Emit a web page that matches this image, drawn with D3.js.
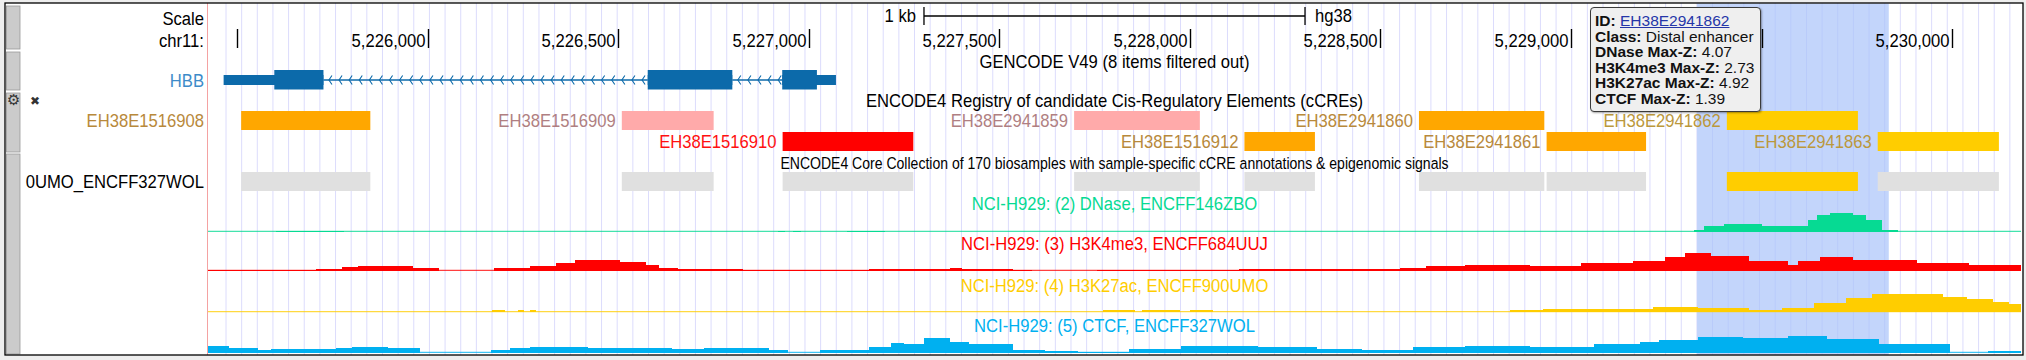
<!DOCTYPE html>
<html><head><meta charset="utf-8">
<script src="https://cdn.jsdelivr.net/npm/d3@7"></script>
<style>
html,body{margin:0;padding:0;background:#eeeeee;overflow:hidden;}
#wrap{position:relative;width:2026px;height:360px;}
svg{display:block;font-family:"Liberation Sans",Arial,Helvetica,sans-serif;}
#tip{position:absolute;left:1590px;top:7px;width:162px;height:95px;padding:5px 3px 3px 4px;
 background:#efefef;border:1px solid #3a3a3a;border-radius:4px;box-shadow:1px 1px 2px rgba(0,0,0,0.35);
 font-family:"Liberation Sans",Arial,sans-serif;font-size:15.5px;line-height:15.5px;color:#111;white-space:nowrap;}
#tip b{font-weight:bold;}
#tip a{color:#2536a8;text-decoration:underline;}
</style></head><body>
<div id="wrap"><svg id="c" width="2026" height="360"></svg>
<div id="tip"></div></div>
<script>
// ---------------- data ----------------
const chromName = "chr11:";
const assembly = "hg38";
const viewStart = 5225423, viewEnd = 5230181;
const tickValues = d3.range(5225500, 5230001, 500);
const scaleBarBp = 1000;
const scaleBarLabel = "1 kb";
const highlightRegion = [5229331, 5229834];

const geneTrackTitle = "GENCODE V49 (8 items filtered out)";
const geneName = "HBB";
const geneExons = [[5225464, 5225726], [5226577, 5226799], [5226930, 5227071]];
const geneCds = [5225597, 5227021];

const ccreTrackTitle = "ENCODE4 Registry of candidate Cis-Regulatory Elements (cCREs)";
const ccreNames  = ["EH38E1516908","EH38E1516909","EH38E1516910","EH38E2941859","EH38E1516912","EH38E2941860","EH38E2941861","EH38E2941862","EH38E2941863"];
const ccreStarts = [5225510, 5226509, 5226931, 5227696, 5228143, 5228601, 5228936, 5229409, 5229805];
const ccreEnds   = [5225849, 5226750, 5227274, 5228026, 5228328, 5228930, 5229197, 5229753, 5230123];
const ccreClasses = ["pELS","CA-H3K4me3","PLS","CA-H3K4me3","pELS","pELS","pELS","dELS","dELS"];
const ccreClassColors = {"PLS":"#ff0000","pELS":"#ffa700","dELS":"#ffcd00","CA-H3K4me3":"#ffaaaa"};
const ccreLabelColors = {"PLS":"#ff1010","pELS":"#b8893b","dELS":"#bb983c","CA-H3K4me3":"#b07f82"};

const coreTrackTitle = "ENCODE4 Core Collection of 170 biosamples with sample-specific cCRE annotations & epigenomic signals";
const coreTrackLabel = "0UMO_ENCFF327WOL";
const coreActive = ["EH38E2941862"];
const coreInactiveColor = "#e0e0e0";

const signalNames = ["NCI-H929: (2) DNase, ENCFF146ZBO","NCI-H929: (3) H3K4me3, ENCFF684UUJ","NCI-H929: (4) H3K27ac, ENCFF900UMO","NCI-H929: (5) CTCF, ENCFF327WOL"];
const signalColors = ["#06da93","#ff0000","#ffcd00","#00b0f0"];
const signalMax = 20;

const dnase = [[5225601,5225780,1.3],[5226919,5226937,1.3],[5226958,5226979,1.3],[5227100,5227200,1.3],
 [5229324,5229349,1.7],[5229349,5229401,5.7],[5229401,5229501,8.3],[5229501,5229621,6.3],[5229621,5229645,11.7],
 [5229645,5229680,16.7],[5229680,5229740,19],[5229740,5229774,16.7],[5229774,5229816,11.7],[5229816,5229858,1.7]];

const h3k4me3 = [[5225423,5225546,1],[5225546,5225706,0.7],[5225706,5225775,2],[5225775,5225817,4.3],[5225817,5225961,5.5],
 [5225961,5226029,3.3],[5226174,5226268,2.7],[5226268,5226336,5],[5226336,5226386,7.7],[5226386,5226504,11],
 [5226504,5226572,9.3],[5226572,5226607,6],[5226607,5226656,2.7],[5226656,5226827,1.7],[5226827,5227158,1],
 [5227158,5227370,2],[5227370,5227402,3.3],[5227402,5227536,2],[5227536,5227585,0.7],[5227756,5228129,1],
 [5228129,5228551,1.7],[5228551,5228619,3.3],[5228619,5228722,5.3],[5228722,5228892,6],[5228892,5229026,5],
 [5229026,5229163,7.7],[5229163,5229247,10],[5229247,5229299,13.7],[5229299,5229367,17.7],[5229367,5229467,15],
 [5229467,5229569,10.3],[5229569,5229596,6],[5229596,5229653,10],[5229653,5229740,13.7],[5229740,5229908,11],
 [5229908,5230044,8.3],[5230044,5230181,6]];

const h3k27ac = [[5226168,5226202,2.3],[5226237,5226252,2],[5226268,5226284,2],[5227772,5227856,2.3],[5227874,5227974,2.3],
 [5228000,5228060,2.3],[5228840,5228926,2.3],[5228926,5229215,3.7],[5229215,5229333,5],[5229333,5229467,4],
 [5229467,5229554,2.3],[5229554,5229638,4],[5229638,5229722,9],[5229722,5229790,14],[5229790,5229976,18.3],
 [5229976,5230040,15.7],[5230040,5230107,13],[5230107,5230150,10],[5230150,5230181,8]];

const ctcf = [[5225423,5225478,6.7],[5225478,5225554,5],[5225554,5225588,2.7],[5225588,5225759,3.7],[5225759,5225801,5.3],
 [5225801,5225895,6],[5225895,5225979,5],[5226166,5226215,2.7],[5226215,5226268,5],[5226268,5226420,6],
 [5226420,5226641,5],[5226641,5226725,3.7],[5226725,5226895,5],[5226895,5226945,2.7],[5227029,5227158,2.7],
 [5227158,5227215,6],[5227215,5227249,10],[5227249,5227302,9.3],[5227302,5227370,15.3],[5227370,5227420,11],
 [5227420,5227536,9.3],[5227536,5227619,2.7],[5227619,5227706,1.7],[5227706,5227840,1],[5227840,5227976,3.7],
 [5227976,5228178,6.7],[5228178,5228333,6],[5228333,5228451,4.3],[5228451,5228585,2.7],[5228585,5228722,6],
 [5228722,5228892,6.7],[5228892,5229060,6],[5229060,5229181,8.7],[5229181,5229231,11],[5229231,5229333,13.3],
 [5229333,5229451,16],[5229451,5229569,15.3],[5229569,5229672,17],[5229672,5229808,14.3],[5229808,5229994,9.3],
 [5229994,5230094,0.5],[5230094,5230181,2]];

const tooltipLines = [["ID:","EH38E2941862",true],["Class:","Distal enhancer"],["DNase Max-Z:","4.07"],
 ["H3K4me3 Max-Z:","2.73"],["H3K27ac Max-Z:","4.92"],["CTCF Max-Z:","1.39"]];

// ---------------- layout ----------------
const W = 2026, H = 360;
const boxL = 5, boxT = 3, boxR = 2023, boxB = 355;
const dataLeft = 208, dataRight = 2021, labelRight = 204;
const tipBox = {x0: 1590, x1: 1762, y0: 7, y1: 111};
const SX = 0.9, FS = 18.5;
const x = d3.scaleLinear().domain([viewStart, viewEnd]).range([dataLeft, dataRight]);
const svg = d3.select("#c");

function txt(g, px, py, s, o) {
  o = o || {};
  const sx = o.sx || SX;
  return g.append("text")
    .attr("transform", `translate(${px},${py}) scale(${sx},1)`)
    .attr("font-size", o.fs || FS)
    .attr("text-anchor", o.anchor || "start")
    .attr("dy", "0.36em")
    .attr("fill", o.color || "#000")
    .attr("font-weight", o.weight || "normal")
    .text(s);
}
function measure(s, fs) {
  const t = svg.append("text").attr("font-size", fs || FS).text(s);
  const w = t.node().getComputedTextLength() * SX;
  t.remove();
  return w;
}

svg.append("rect").attr("width", W).attr("height", H).attr("fill", "#eeeeee");
svg.append("rect").attr("x", boxL).attr("y", boxT).attr("width", boxR - boxL).attr("height", boxB - boxT).attr("fill", "#fff");

// guidelines
const gGrid = svg.append("g");
gGrid.selectAll("line").data(d3.range(226, dataRight, 15.648)).join("line")
  .attr("x1", d => d).attr("x2", d => d).attr("y1", boxT).attr("y2", boxB)
  .attr("stroke", "#dcdcfc").attr("stroke-width", 1);

// highlight
svg.append("rect").attr("x", x(highlightRegion[0])).attr("y", boxT + 0.5)
  .attr("width", x(highlightRegion[1]) - x(highlightRegion[0])).attr("height", boxB - boxT - 0.5)
  .attr("fill", "rgb(170,195,250)").attr("opacity", 0.7);

// red guide line at data left
svg.append("line").attr("x1", dataLeft - 0.5).attr("x2", dataLeft - 0.5).attr("y1", boxT).attr("y2", boxB)
  .attr("stroke", "#f4a2a2").attr("stroke-width", 1);

// side handles
const handles = [[6, 49], [52, 90], [93, 152], [154, 354]];
svg.append("g").selectAll("rect").data(handles).join("rect")
  .attr("x", 6.5).attr("y", d => d[0]).attr("width", 13.5).attr("height", d => d[1] - d[0])
  .attr("fill", "#cbcbcb").attr("stroke", "#9a9a9a").attr("stroke-width", 0.8);
svg.append("text").attr("x", 7).attr("y", 105).attr("font-size", 15).attr("fill", "#333")
  .attr("font-family", "DejaVu Sans").text("\u2699");
svg.append("text").attr("x", 30).attr("y", 105).attr("font-size", 12).attr("fill", "#333")
  .attr("font-family", "DejaVu Sans").attr("font-weight", "bold").text("\u2716");

// ---------------- ruler ----------------
txt(svg, labelRight, 18, "Scale", {anchor: "end"});
txt(svg, labelRight, 40, chromName, {anchor: "end"});
const mid = (viewStart + viewEnd) / 2;
const sb0 = x(mid - scaleBarBp / 2), sb1 = x(mid + scaleBarBp / 2);
const gSB = svg.append("g").attr("stroke", "#000").attr("stroke-width", 1.3);
gSB.append("line").attr("x1", sb0).attr("x2", sb1).attr("y1", 16).attr("y2", 16);
gSB.append("line").attr("x1", sb0).attr("x2", sb0).attr("y1", 7).attr("y2", 25);
gSB.append("line").attr("x1", sb1).attr("x2", sb1).attr("y1", 7).attr("y2", 25);
txt(svg, sb0 - 8, 15, scaleBarLabel, {anchor: "end"});
txt(svg, sb1 + 10, 15, assembly);

const fmt = d3.format(",");
const gTick = svg.append("g");
tickValues.forEach(t => {
  const px = Math.round(x(t)) + 0.5;
  gTick.append("line").attr("x1", px).attr("x2", px).attr("y1", 29).attr("y2", 48)
    .attr("stroke", "#000").attr("stroke-width", 1.4);
  const lab = fmt(t);
  const lx0 = px - 3 - measure(lab), lx1 = px - 3;
  const hiddenByTip = lx1 > tipBox.x0 && lx0 < tipBox.x1;   // covered by the popup in the screenshot
  if (lx0 > dataLeft + 2 && !hiddenByTip) txt(gTick, px - 3, 40, lab, {anchor: "end"});
});

// ---------------- gene ----------------
const midX = (dataLeft + dataRight) / 2;
txt(svg, midX, 61, geneTrackTitle, {anchor: "middle"});
txt(svg, labelRight, 80, geneName, {anchor: "end", color: "#3d8bc9"});
const geneColor = "#0c6aaa", gy = 80;
const gGene = svg.append("g");
for (let i = 0; i < geneExons.length - 1; i++) {
  const a = x(geneExons[i][1]), b = x(geneExons[i + 1][0]);
  gGene.append("line").attr("x1", a).attr("x2", b).attr("y1", gy).attr("y2", gy)
    .attr("stroke", geneColor).attr("stroke-width", 1.5);
  d3.range(a + 6, b - 3, 10.1).forEach(p => {
    gGene.append("path").attr("d", `M${p + 2.5},${gy - 4.5}L${p - 0.5},${gy}L${p + 2.5},${gy + 4.5}`)
      .attr("fill", "none").attr("stroke", geneColor).attr("stroke-width", 1.1);
  });
}
geneExons.forEach(([s, e]) => {
  gGene.append("rect").attr("x", x(s)).attr("width", x(e) - x(s)).attr("y", gy - 5).attr("height", 10).attr("fill", geneColor);
  const cs = Math.max(s, geneCds[0]), ce = Math.min(e, geneCds[1]);
  if (ce > cs) gGene.append("rect").attr("x", x(cs)).attr("width", x(ce) - x(cs)).attr("y", gy - 10).attr("height", 19.5).attr("fill", geneColor);
});

// ---------------- cCREs ----------------
txt(svg, midX, 100, ccreTrackTitle, {anchor: "middle"});
const ccres = ccreNames.map((n, i) => ({name: n, start: ccreStarts[i], end: ccreEnds[i], cls: ccreClasses[i]}));
const rowEnds = [];
ccres.forEach(d => {
  const w = measure(d.name);
  const x0 = x(d.start);
  d.labelLeft = (x0 - 6 - w) < dataLeft;
  const occ = d.labelLeft ? x0 : x0 - 6 - w;
  let r = 0;
  while (rowEnds[r] !== undefined && rowEnds[r] + 3 > occ) r++;
  rowEnds[r] = x(d.end);
  d.row = r;
});
const rowTop = 111, rowPitch = 21, barH = 19;
const gC = svg.append("g");
gC.selectAll("rect").data(ccres).join("rect")
  .attr("x", d => x(d.start)).attr("width", d => x(d.end) - x(d.start))
  .attr("y", d => rowTop + d.row * rowPitch).attr("height", barH)
  .attr("fill", d => ccreClassColors[d.cls]);
ccres.forEach(d => {
  const yc = rowTop + d.row * rowPitch + barH / 2;
  txt(gC, d.labelLeft ? labelRight : x(d.start) - 6, yc, d.name, {anchor: "end", color: ccreLabelColors[d.cls]});
});

// core collection
txt(svg, midX, 163, coreTrackTitle, {anchor: "middle", fs: 15.6});
txt(svg, labelRight, 181.5, coreTrackLabel, {anchor: "end"});
svg.append("g").selectAll("rect").data(ccres).join("rect")
  .attr("x", d => x(d.start)).attr("width", d => x(d.end) - x(d.start))
  .attr("y", 172).attr("height", barH)
  .attr("fill", d => coreActive.includes(d.name) ? ccreClassColors[d.cls] : coreInactiveColor);

// ---------------- signals ----------------
const signals = [dnase, h3k4me3, h3k27ac, ctcf];
const labelY = [203, 243, 285, 325];
const baseY = [232, 271, 312.3, 353];
signals.forEach((seg, i) => {
  const y = d3.scaleLinear().domain([0, signalMax]).range([baseY[i], baseY[i] - 20]);
  const g = svg.append("g");
  g.append("line").attr("x1", dataLeft).attr("x2", dataRight).attr("y1", baseY[i] - 0.6).attr("y2", baseY[i] - 0.6)
    .attr("stroke", signalColors[i]).attr("stroke-width", 1.2).attr("opacity", 0.75);
  g.selectAll("rect").data(seg).join("rect")
    .attr("x", d => x(d[0])).attr("width", d => x(d[1]) - x(d[0]))
    .attr("y", d => y(d[2])).attr("height", d => baseY[i] - y(d[2]))
    .attr("fill", signalColors[i]).attr("shape-rendering", "crispEdges");
  txt(svg, midX, labelY[i], signalNames[i], {anchor: "middle", color: signalColors[i]});
});

// frame
svg.append("rect").attr("x", boxL).attr("y", boxT).attr("width", boxR - boxL).attr("height", boxB - boxT)
  .attr("fill", "none").attr("stroke", "#000").attr("stroke-width", 1.3);

// tooltip
const tip = d3.select("#tip");
tooltipLines.forEach(l => {
  const div = tip.append("div");
  div.append("b").text(l[0]);
  div.append("span").text(" ");
  if (l[2]) div.append("a").attr("href", "#").text(l[1]);
  else div.append("span").text(l[1]);
});
</script></body></html>
